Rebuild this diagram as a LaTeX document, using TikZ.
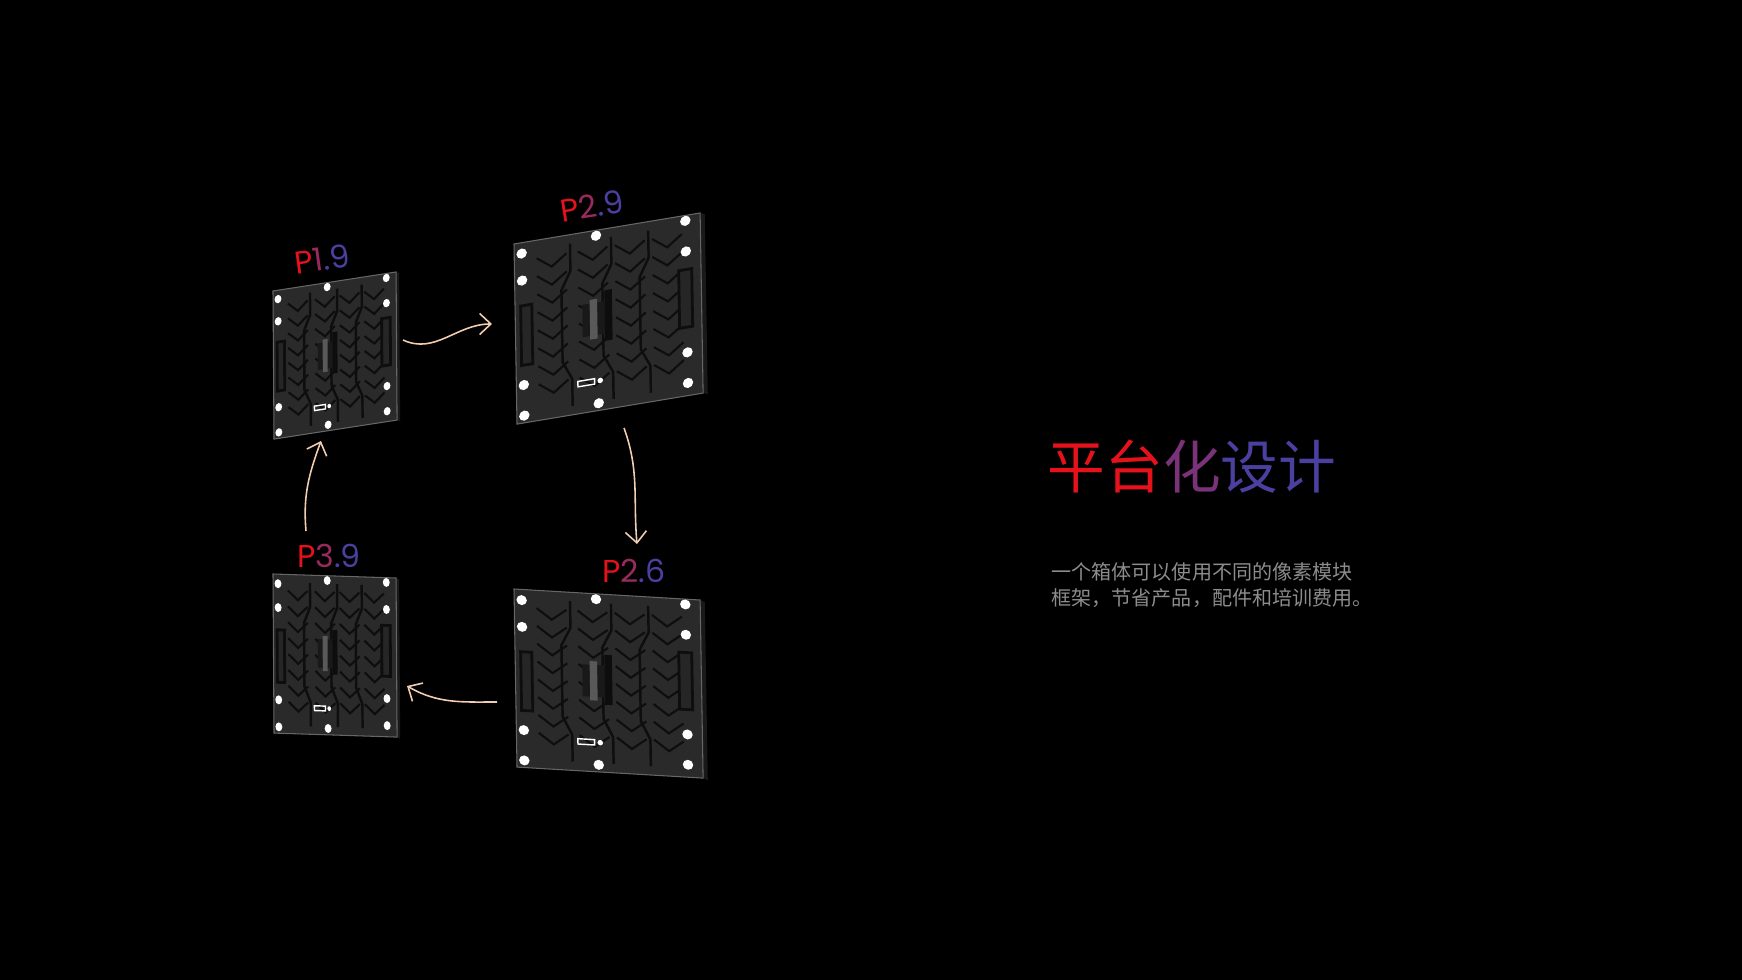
\documentclass[tikz,border=0pt]{standalone}
\usepackage{fontspec}
\setmainfont{Poppins}
\newfontfamily\cjk{Noto Sans CJK SC}
\definecolor{rd}{HTML}{E5121C}
\definecolor{pu}{HTML}{4B3FA0}
\definecolor{mx}{HTML}{9A2A5E}
\definecolor{arr}{HTML}{F2CDB0}
\definecolor{pbody}{HTML}{2A2A2A}
\definecolor{pline}{HTML}{0E0E0E}
\definecolor{subt}{HTML}{8C8C8C}
\tikzset{
  lbl/.style={font=\fontsize{9pt}{9pt}\selectfont, inner sep=0pt},
  flow/.style={draw=arr, line width=0.45pt, -{Straight Barb[length=3.2pt,width=6pt]}},
  hole/.style={fill=white, draw=none},
}
\usetikzlibrary{arrows.meta}
\newcommand\rct[4]{(#1,#2) -- (#3,#2) -- (#3,#4) -- (#1,#4) -- cycle}
\newcommand\panel[1]{%
  \begin{scope}[#1]
    \fill[black!80!gray] (1,0) -- (1.025,0.01) -- (1.025,1.01) -- (1,1) -- cycle;
    \fill[pbody] \rct{0}{0}{1}{1};
    \draw[black!60, line width=0.3pt] \rct{0}{0}{1}{1};
    \foreach \cx in {0.2,0.42,0.62,0.82}{
      \foreach \cy in {0.1,0.2,0.3,0.4,0.5,0.6,0.7,0.8}{
        \draw[pline, line width=0.6pt] (\cx-0.08,\cy) -- (\cx,\cy+0.06) -- (\cx+0.08,\cy);
      }
    }
    \foreach \cx in {0.3,0.52,0.72}{
      \draw[pline, line width=0.7pt] (\cx,0.05) -- (\cx,0.2) -- (\cx-0.05,0.3) -- (\cx-0.05,0.7) -- (\cx,0.8) -- (\cx,0.95);
    }
    \draw[pline, line width=0.8pt, fill=black!85] \rct{0.03}{0.35}{0.09}{0.68};
    \draw[pline, line width=0.8pt, fill=black!85] \rct{0.88}{0.3}{0.95}{0.62};
    \fill[black!90] \rct{0.36}{0.4}{0.48}{0.58};
    \fill[black!65] \rct{0.4}{0.38}{0.44}{0.6};
    \fill[black!95] \rct{0.48}{0.34}{0.52}{0.62};
    \draw[white!70, line width=0.4pt] \rct{0.33}{0.82}{0.42}{0.85};
    \fill[white] (0.45,0.835) circle[radius=0.015];
    \foreach \p in {(0.04,0.06),(0.44,0.03),(0.92,0.03),(0.04,0.21),(0.92,0.2),(0.04,0.79),(0.92,0.76),(0.04,0.96),(0.44,0.96),(0.92,0.93)}{
      \fill[hole] \p circle[radius=0.028];
    }
  \end{scope}}
\begin{document}
\begin{tikzpicture}[x=0.01cm,y=-0.01cm]
\useasboundingbox[fill=black] (0,0) rectangle (1742,980);
\panel{shift={(273,291)}, x={(1.23cm,0.19cm)}, y={(0.01cm,-1.48cm)}}
\panel{shift={(514,244)}, x={(1.86cm,0.31cm)}, y={(0.03cm,-1.80cm)}}
\panel{shift={(273,574)}, x={(1.23cm,-0.04cm)}, y={(0.01cm,-1.59cm)}}
\panel{shift={(514,589)}, x={(1.86cm,-0.11cm)}, y={(0.03cm,-1.78cm)}}
\node[lbl, rotate=8] (l1) at (322,259) {\textcolor{rd}{P}\textcolor{mx}{1}\textcolor{pu}{.9}};
\node[lbl, rotate=9] (l2) at (592,206) {\textcolor{rd}{P}\textcolor{mx}{2}\textcolor{pu}{.9}};
\node[lbl] (l3) at (329,556) {\textcolor{rd}{P}\textcolor{mx}{3}\textcolor{pu}{.9}};
\node[lbl] (l4) at (634,571) {\textcolor{rd}{P}\textcolor{mx}{2}\textcolor{pu}{.6}};
\coordinate (a1s) at (403,340); \coordinate (a1e) at (492,324);
\coordinate (a2s) at (624,428); \coordinate (a2e) at (637,544);
\coordinate (a3s) at (497,702); \coordinate (a3e) at (407,686);
\coordinate (a4s) at (306,531); \coordinate (a4e) at (321,441);
\draw[flow] (a1s) to[out=-25,in=180] (a1e);
\draw[flow] (a2s) to[out=-70,in=95] (a2e);
\draw[flow] (a3s) to[out=180,in=-30] (a3e);
\draw[flow] (a4s) to[out=95,in=-110] (a4e);
\node[inner sep=0pt, anchor=west, font=\cjk\fontsize{16.4pt}{16.4pt}\selectfont] (title) at (1047,467)
  {\textcolor{rd}{平台}\textcolor{mx!60!pu}{化}\textcolor{pu}{设计}};
\node[inner sep=0pt, anchor=north west, align=left, text=subt, font=\cjk\fontsize{5.7pt}{7.4pt}\selectfont] (sub) at (1051,562)
  {一个箱体可以使用不同的像素模块\\框架，节省产品，配件和培训费用。};
\end{tikzpicture}
\end{document}
